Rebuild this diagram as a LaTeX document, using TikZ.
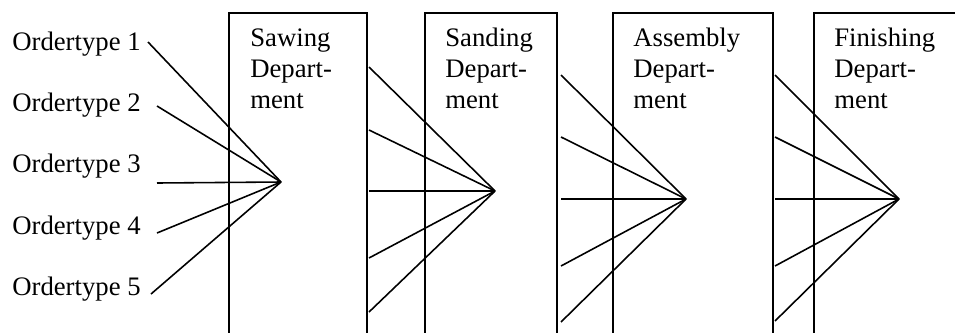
\documentclass[tikz,border=0pt]{standalone}
\usepackage{fontspec}
\setmainfont{Liberation Serif}
\usetikzlibrary{positioning}

\begin{document}
\begin{tikzpicture}[x=0.02cm, y=-0.02cm,
          dept/.style={draw, line width=1pt, anchor=north west, minimum height=8cm, inner sep=0pt},
          deptname/.style={anchor=base west, inner sep=0pt, align=left, font=\fontsize{15.2}{17.5}\selectfont},
          order/.style={anchor=base west, inner sep=0pt, font=\fontsize{15.2}{17.5}\selectfont},
          feed/.style={line width=0.9pt}]
        \useasboundingbox (0,0) rectangle (955,332);
        \clip (0,0) rectangle (955,332);
        % departments
        \node[dept, minimum width=2.77cm] (saw) at (228,12) {};
        \node[dept, minimum width=2.64cm] (sand) at (424,12) {};
        \node[dept, minimum width=3.2cm] (asm) at (612,12) {};
        \node[dept, minimum width=4cm] (fin) at (813,12) {};
        \node[deptname] (sawt) at ([shift={(22,96)}]saw.north west) {Sawing\\Depart-\\ment};
        \node[deptname] (sandt) at ([shift={(21,96)}]sand.north west) {Sanding\\Depart-\\ment};
        \node[deptname] (asmt) at ([shift={(21,96)}]asm.north west) {Assembly\\Depart-\\ment};
        \node[deptname] (fint) at ([shift={(21,96)}]fin.north west) {Finishing\\Depart-\\ment};
        % order types
        \node[order] (o1) at (12,50) {Ordertype 1};
        \node[order] (o2) at (12,111) {Ordertype 2};
        \node[order] (o3) at (12,172) {Ordertype 3};
        \node[order] (o4) at (12,234) {Ordertype 4};
        \node[order] (o5) at (12,295) {Ordertype 5};
        % meeting points
        \coordinate (h1) at (281,182);
        \coordinate (h2) at (495,191);
        \coordinate (h3) at (686,199);
        \coordinate (h4) at (899,199);
        % flows
        \foreach \x/\y [count=\i] in {148/42,157/106,157/183,157/233,151/294} {
          \coordinate (a\i) at (\x,\y);
          \draw[feed] (a\i) -- (h1);
        }
        \foreach \y [count=\i] in {67,130,191,258,312} {
          \coordinate (b\i) at (369,\y);
          \draw[feed] (b\i) -- (h2);
        }
        \foreach \y [count=\i] in {75,137,199,266,322} {
          \coordinate (c\i) at (561,\y);
          \draw[feed] (c\i) -- (h3);
        }
        \foreach \y [count=\i] in {75,137,199,266,321} {
          \coordinate (d\i) at (775,\y);
          \draw[feed] (d\i) -- (h4);
        }
      \end{tikzpicture}
\end{document}
